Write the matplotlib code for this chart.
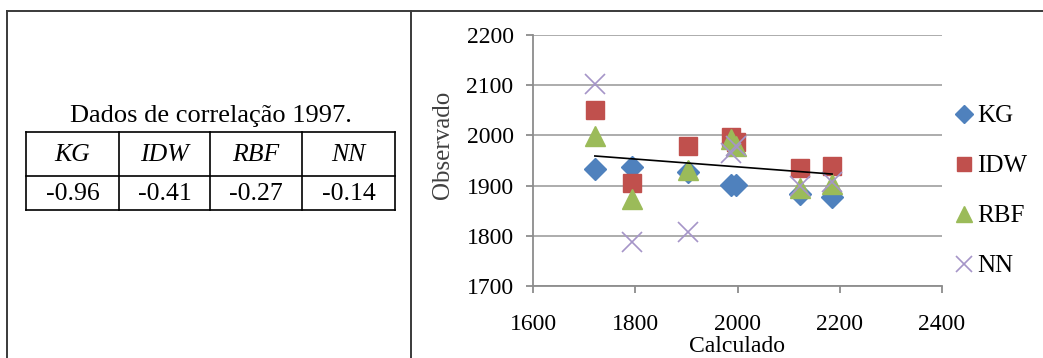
import matplotlib.pyplot as plt

# scatter data (Calculado vs Observado)
calc_x = [1721, 1794, 1903, 1987, 1998, 2122, 2185]
kg = [1933, 1937, 1927, 1901, 1901, 1884, 1878]
idw = [2050, 1905, 1979, 1997, 1987, 1935, 1939]
rbf = [1999, 1873, 1931, 1993, 1979, 1895, 1903]
nn = [2102, 1788, 1808, 1965, 1979, 1899, 1907]

# trend line end points
trend_x = [1721, 2185]
trend_y = [1959, 1923]

# correlation table
methods = ["KG", "IDW", "RBF", "NN"]
corr = [-0.96, -0.41, -0.27, -0.14]

W, H = 1043, 358
fig = plt.figure(figsize=(W / 100, H / 100), dpi=100)
serif = "Liberation Serif"

# background axes in pixel coords for frame + table
bg = fig.add_axes([0, 0, 1, 1])
bg.set_xlim(0, W)
bg.set_ylim(H, 0)
bg.axis("off")
fc = "#3a3a3a"
bg.plot([7, W], [11, 11], color=fc, lw=1.4)
bg.plot([7, 7], [11, H], color=fc, lw=1.4)
bg.plot([411, 411], [11, H], color=fc, lw=1.4)

cols = [26, 119, 210, 302, 395]
rows = [132, 176, 210]
for r in rows:
    bg.plot([cols[0], cols[-1]], [r, r], color="black", lw=1.2)
for c in cols:
    bg.plot([c, c], [rows[0], rows[-1]], color="black", lw=1.2)
bg.text((cols[0] + cols[-1]) / 2, 116, "Dados de correlação 1997.", ha="center",
        va="center", fontsize=19, family=serif)
for i, (m, v) in enumerate(zip(methods, corr)):
    xc = (cols[i] + cols[i + 1]) / 2
    bg.text(xc, (rows[0] + rows[1]) / 2 + 1, m, ha="center", va="center",
            fontsize=18.5, family=serif, style="italic")
    bg.text(xc, (rows[1] + rows[2]) / 2 + 1, "%.2f" % v, ha="center", va="center",
            fontsize=18.5, family=serif)

# scatter chart
ax = fig.add_axes([533 / W, 1 - 286 / H, 409 / W, 251 / H])
ax.plot(calc_x, kg, "D", color="#4F81BD", ms=11, label="KG", ls="none")
ax.plot(calc_x, idw, "s", color="#C0504D", ms=13, label="IDW", ls="none")
ax.plot(calc_x, rbf, "^", color="#9BBB59", ms=14, label="RBF", ls="none")
ax.plot(calc_x, nn, "x", color="#A595C8", ms=14, mew=1.2, label="NN", ls="none")
ax.plot(trend_x, trend_y, color="black", lw=1.2)

ax.set_xlim(1600, 2400)
ax.set_ylim(1700, 2200)
ax.set_xticks(range(1600, 2401, 200))
ax.set_yticks(range(1700, 2201, 100))
ax.grid(axis="y", color="#A6A6A6", lw=1.3)
ax.set_axisbelow(True)
for s in ["top", "right"]:
    ax.spines[s].set_visible(False)
for s in ["left", "bottom"]:
    ax.spines[s].set_color("#8C8C8C")
    ax.spines[s].set_linewidth(1.3)
ax.tick_params(direction="out", length=5, color="#8C8C8C", width=1.3,
               labelsize=17)
ax.tick_params(axis="y", pad=9)
ax.tick_params(axis="x", pad=15.5)
for lab in ax.get_xticklabels() + ax.get_yticklabels():
    lab.set_family(serif)

fig.text(443 / W, 1 - 145 / H, "Observado", rotation=90, ha="center",
         va="center", fontsize=18, family=serif, color="#404040")
fig.text(737 / W, 1 - 346 / H, "Calculado", ha="center", va="center",
         fontsize=17, family=serif)

leg = ax.legend(loc="center left", bbox_to_anchor=(956 / W, 1 - 191 / H),
                bbox_transform=fig.transFigure, frameon=False,
                prop={"family": serif, "size": 18}, handlelength=0.6,
                handletextpad=0.24, labelspacing=1.1, markerscale=0.8,
                borderpad=0, borderaxespad=0)

fig.savefig("out.png", dpi=100)
